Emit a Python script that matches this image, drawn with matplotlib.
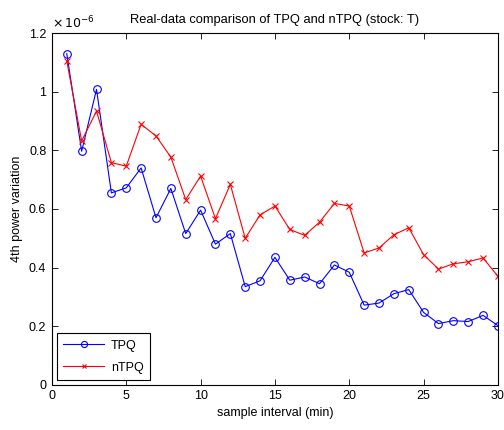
import matplotlib
matplotlib.use("Agg")
import matplotlib.pyplot as plt
from matplotlib.ticker import FuncFormatter

plt.rcParams['font.family'] = ['Liberation Sans', 'DejaVu Sans']

intervals = list(range(1, 31))
tpq = [1.13, 0.797, 1.008, 0.655, 0.672, 0.74, 0.57, 0.67, 0.516, 0.596,
       0.48, 0.516, 0.335, 0.355, 0.435, 0.357, 0.368, 0.345, 0.409, 0.384,
       0.272, 0.279, 0.311, 0.325, 0.247, 0.209, 0.219, 0.216, 0.237, 0.202]
ntpq = [1.105, 0.832, 0.934, 0.758, 0.746, 0.889, 0.849, 0.777, 0.632, 0.712,
        0.567, 0.684, 0.50, 0.58, 0.61, 0.53, 0.51, 0.555, 0.619, 0.61,
        0.45, 0.467, 0.512, 0.536, 0.444, 0.395, 0.413, 0.42, 0.433, 0.37]
xticks = [0, 5, 10, 15, 20, 25, 30]
yticks = [0, 0.2, 0.4, 0.6, 0.8, 1.0, 1.2]

fig = plt.figure(figsize=(5.04, 4.30), dpi=100)
ax = fig.add_axes([0.103, 0.105, 0.885, 0.818])

ax.plot(intervals, tpq, color='#0000ff', marker='o', markersize=5.5,
        markerfacecolor='none', markeredgewidth=0.8, linewidth=0.8, label='TPQ')
ax.plot(intervals, ntpq, color='#ff0000', marker='x', markersize=4,
        markeredgewidth=0.8, linewidth=0.8, label='nTPQ')

ax.set_xlim(0, 30)
ax.set_ylim(0, 1.2)
ax.set_xticks(xticks)
ax.set_yticks(yticks)
ax.yaxis.set_major_formatter(FuncFormatter(lambda v, p: '%g' % round(v, 3)))
ax.tick_params(direction='in', top=True, right=True, labelsize=9, length=4,
               width=0.6, pad=4)
for s in ax.spines.values():
    s.set_linewidth(0.8)

ax.text(0.0, 1.005, r'$\times\,10^{-6}$', transform=ax.transAxes,
        fontsize=9, ha='left', va='bottom')
ax.set_title('Real-data comparison of TPQ and nTPQ (stock: T)', fontsize=9.3, pad=7)
ax.set_xlabel('sample interval (min)', fontsize=9, labelpad=3)
ax.set_ylabel('4th power variation', fontsize=9, labelpad=4)

leg = ax.legend(loc='lower left', fontsize=9, fancybox=False, framealpha=1,
                edgecolor='black', borderaxespad=0.4, handlelength=3.3,
                labelspacing=0.8, borderpad=0.5, handletextpad=0.5,
                markerscale=0.8)
leg.get_frame().set_linewidth(0.8)

fig.savefig('out.png', dpi=100, facecolor='white')
